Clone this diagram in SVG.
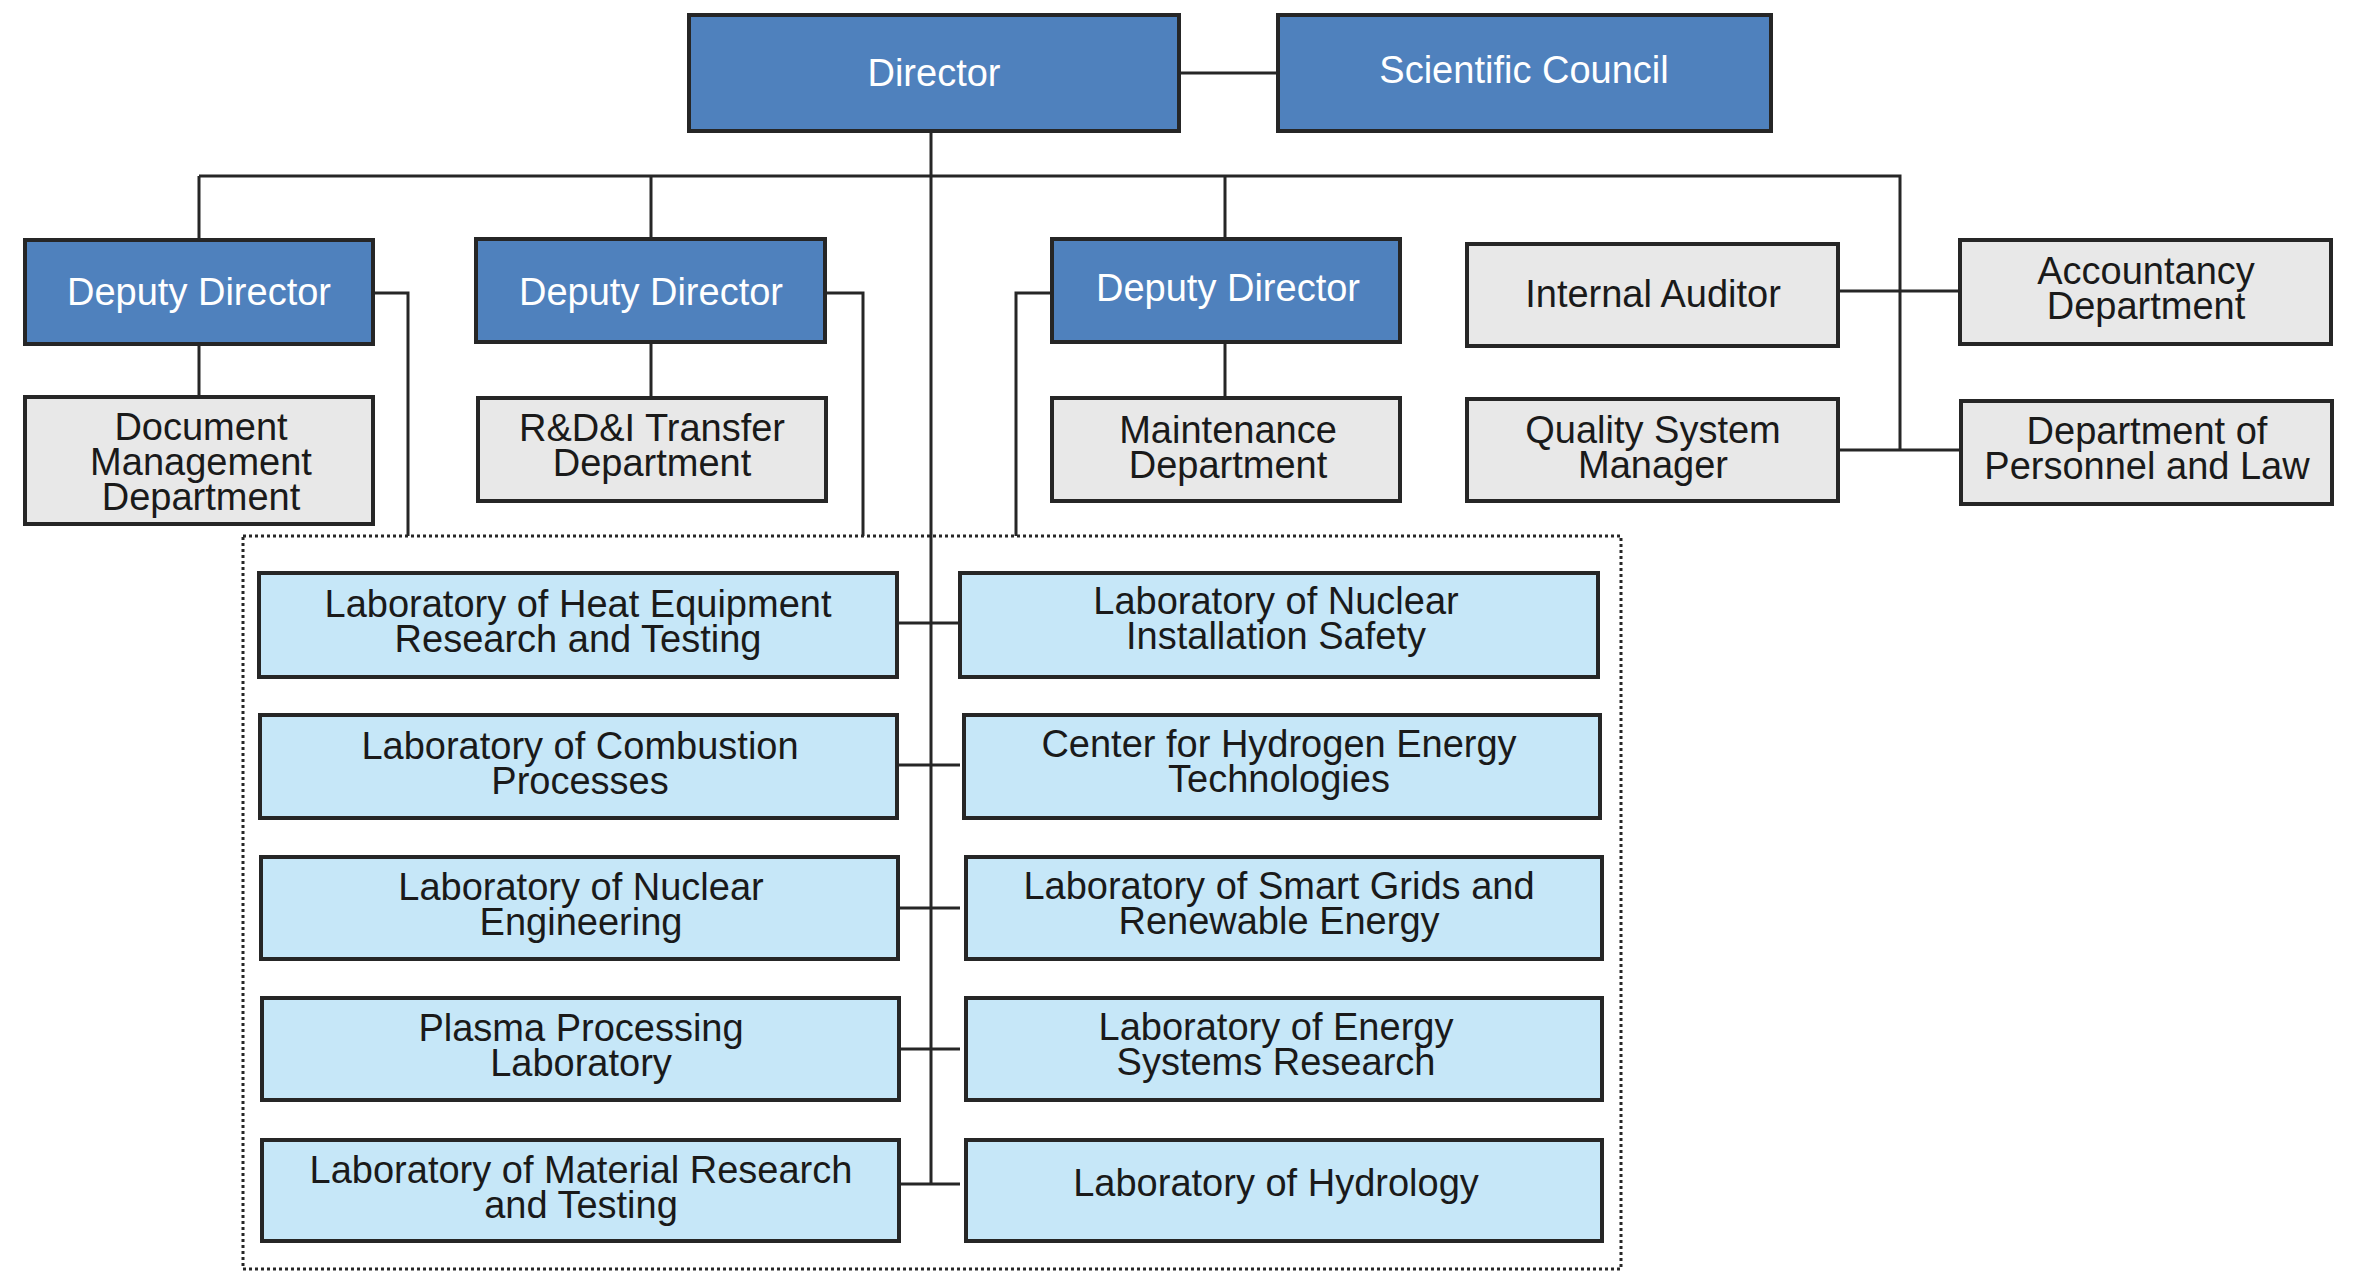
<svg xmlns="http://www.w3.org/2000/svg" width="2358" height="1285" viewBox="0 0 2358 1285">
<style>
rect{stroke:#262626;stroke-width:4}
.b{fill:#4F81BD}.g{fill:#E8E8E8}.l{fill:#C6E7F8}
text{font-family:"Liberation Sans",Arial,sans-serif;font-size:38px;text-anchor:middle;fill:#1a1a1a}
.w{fill:#fff}
#conn path{fill:none;stroke:#262626;stroke-width:3}
</style>
<rect x="0" y="0" width="2358" height="1285" style="fill:#fff;stroke:none"/>
<g id="conn">
<path d="M931 131V1184M1179 73H1278M199 176H1900V450M199 176V240M651 176V239M1225 176V239M199 344V397M651 342V398M1225 342V398M1838 291H1960M1838 450H1961M373 293H408V536M825 293H863V536M1052 293H1016V536"/>
<path d="M897 623H960M897 765H960M897 908H960M897 1049H960M897 1184H960"/>
<rect x="243" y="536" width="1378" height="733" style="fill:none;stroke:#262626;stroke-width:3;stroke-dasharray:3 3"/>
</g>
<g id="director"><rect class="b" x="689" y="15" width="490" height="116"/><text class="w" x="934" y="86">Director</text></g>
<g id="council"><rect class="b" x="1278" y="15" width="493" height="116"/><text class="w" x="1524" y="83">Scientific Council</text></g>
<g id="dep1"><rect class="b" x="25" y="240" width="348" height="104"/><text class="w" x="199" y="305">Deputy Director</text></g>
<g id="dep2"><rect class="b" x="476" y="239" width="349" height="103"/><text class="w" x="651" y="305">Deputy Director</text></g>
<g id="dep3"><rect class="b" x="1052" y="239" width="348" height="103"/><text class="w" x="1228" y="301">Deputy Director</text></g>
<g id="doc"><rect class="g" x="25" y="397" width="348" height="127"/><text x="201" y="440">Document</text><text x="201" y="475">Management</text><text x="201" y="510">Department</text></g>
<g id="rdi"><rect class="g" x="478" y="398" width="348" height="103"/><text x="652" y="441">R&amp;D&amp;I Transfer</text><text x="652" y="476">Department</text></g>
<g id="maint"><rect class="g" x="1052" y="398" width="348" height="103"/><text x="1228" y="443">Maintenance</text><text x="1228" y="478">Department</text></g>
<g id="auditor"><rect class="g" x="1467" y="244" width="371" height="102"/><text x="1653" y="307">Internal Auditor</text></g>
<g id="quality"><rect class="g" x="1467" y="399" width="371" height="102"/><text x="1653" y="443">Quality System</text><text x="1653" y="478">Manager</text></g>
<g id="acc"><rect class="g" x="1960" y="240" width="371" height="104"/><text x="2146" y="284">Accountancy</text><text x="2146" y="319">Department</text></g>
<g id="pers"><rect class="g" x="1961" y="401" width="371" height="103"/><text x="2147" y="444">Department of</text><text x="2147" y="479">Personnel and Law</text></g>
<g id="lab1"><rect class="l" x="259" y="573" width="638" height="104"/><text x="578" y="617">Laboratory of Heat Equipment</text><text x="578" y="652">Research and Testing</text></g>
<g id="lab2"><rect class="l" x="260" y="715" width="637" height="103"/><text x="580" y="759">Laboratory of Combustion</text><text x="580" y="794">Processes</text></g>
<g id="lab3"><rect class="l" x="261" y="857" width="637" height="102"/><text x="581" y="900">Laboratory of Nuclear</text><text x="581" y="935">Engineering</text></g>
<g id="lab4"><rect class="l" x="262" y="998" width="637" height="102"/><text x="581" y="1041">Plasma Processing</text><text x="581" y="1076">Laboratory</text></g>
<g id="lab5"><rect class="l" x="262" y="1140" width="637" height="101"/><text x="581" y="1183">Laboratory of Material Research</text><text x="581" y="1218">and Testing</text></g>
<g id="lab6"><rect class="l" x="960" y="573" width="638" height="104"/><text x="1276" y="614">Laboratory of Nuclear</text><text x="1276" y="649">Installation Safety</text></g>
<g id="lab7"><rect class="l" x="964" y="715" width="636" height="103"/><text x="1279" y="757">Center for Hydrogen Energy</text><text x="1279" y="792">Technologies</text></g>
<g id="lab8"><rect class="l" x="966" y="857" width="636" height="102"/><text x="1279" y="899">Laboratory of Smart Grids and</text><text x="1279" y="934">Renewable Energy</text></g>
<g id="lab9"><rect class="l" x="966" y="998" width="636" height="102"/><text x="1276" y="1040">Laboratory of Energy</text><text x="1276" y="1075">Systems Research</text></g>
<g id="lab10"><rect class="l" x="966" y="1140" width="636" height="101"/><text x="1276" y="1196">Laboratory of Hydrology</text></g>
</svg>
